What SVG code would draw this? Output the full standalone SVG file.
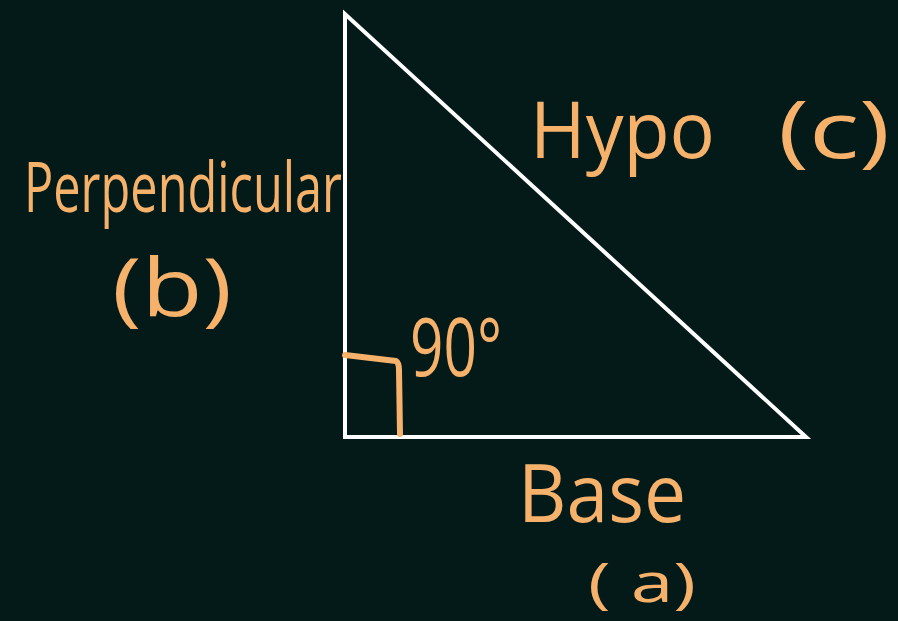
<svg xmlns="http://www.w3.org/2000/svg" width="898" height="621" viewBox="0 0 898 621">
<style>
.lbl{font-family:"Open Sans","DejaVu Sans",sans-serif;fill:#f6b26b;font-weight:400}
</style>
<rect width="898" height="621" fill="#031a19"/>
<g id="triangle">
<polygon points="345,14 345,437 806,437" fill="none" stroke="#ffffff" stroke-width="4" stroke-linejoin="miter"/>
</g>
<g id="connectors">
<path d="M345,355 L396,361 Q399,363 399,370 L400,434" fill="none" stroke="#f6b26b" stroke-width="6" stroke-linecap="round" stroke-linejoin="round"/>
</g>
<g id="perpendicular">
<text class="lbl" x="24" y="212" font-size="70" textLength="318" lengthAdjust="spacingAndGlyphs">Perpendicular</text>
<text class="lbl" x="112" y="316" font-size="80" textLength="120" lengthAdjust="spacingAndGlyphs">(b)</text>
</g>
<g id="hypo">
<text class="lbl" x="530" y="158" font-size="78" textLength="185" lengthAdjust="spacingAndGlyphs">Hypo</text>
<text class="lbl" x="778" y="158" font-size="78" textLength="112" lengthAdjust="spacingAndGlyphs">(c)</text>
</g>
<g id="angle">
<text class="lbl" x="410" y="376" font-size="80" textLength="92" lengthAdjust="spacingAndGlyphs">90°</text>
</g>
<g id="base">
<text class="lbl" x="518" y="522" font-size="80" textLength="168" lengthAdjust="spacingAndGlyphs">Base</text>
<text class="lbl" x="588" y="602" font-size="54" textLength="108" lengthAdjust="spacingAndGlyphs">( a)</text>
</g>
</svg>
